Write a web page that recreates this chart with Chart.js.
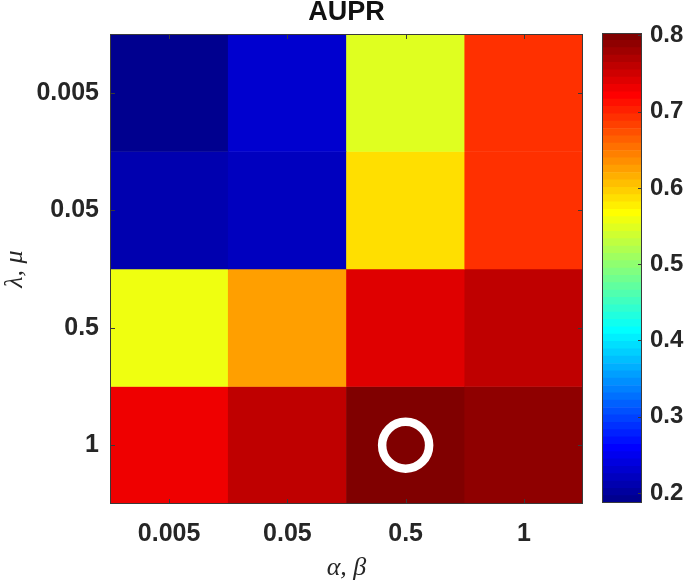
<!DOCTYPE html>
<html>
<head>
<meta charset="utf-8">
<script src="https://cdn.jsdelivr.net/npm/chart.js@4.4.1/dist/chart.umd.min.js"></script>
<style>
html, body { margin: 0; padding: 0; background: #fff; }
#wrap { position: relative; width: 685px; height: 587px; }
#heat { position: absolute; left: 0; top: 0; }
#cbar { position: absolute; left: 590px; top: 0; }
</style>
</head>
<body>
<div id="wrap">
  <canvas id="heat" width="685" height="587"></canvas>
  <canvas id="cbar" width="95" height="587"></canvas>
</div>
<script>
// categories
const alphaBeta = ['0.005', '0.05', '0.5', '1'];
const lambdaMu = ['0.005', '0.05', '0.5', '1'];

// AUPR per lambda,mu row (top to bottom), columns are alpha,beta
const aupr_l0005 = [0.190, 0.228, 0.548, 0.692];
const aupr_l005 = [0.210, 0.218, 0.586, 0.692];
const aupr_l05 = [0.557, 0.625, 0.740, 0.760];
const aupr_l1 = [0.731, 0.760, 0.800, 0.790];
const rows = [aupr_l0005, aupr_l005, aupr_l05, aupr_l1];

// colour axis
const cMin = 0.187, cMax = 0.803;
const cbTicks = [0.2, 0.3, 0.4, 0.5, 0.6, 0.7, 0.8];

const textColor = '#262626';
const sans = "'Liberation Sans', Arial, sans-serif";
const serif = "'Liberation Serif', 'Times New Roman', serif";

// matlab jet(64)
function u(j) {
  if (j < 1 || j > 47) return 0;
  if (j <= 16) return j / 16;
  if (j <= 31) return 1;
  return (48 - j) / 16;
}
function jet64(k) {
  const c = x => Math.round(255 * x);
  return `rgb(${c(u(k - 24))},${c(u(k - 8))},${c(u(k + 8))})`;
}
function colorOf(v) {
  let k = Math.floor((v - cMin) / (cMax - cMin) * 64) + 1;
  k = Math.max(1, Math.min(64, k));
  return jet64(k);
}

// best cell gets the circle
let best = {v: -Infinity};
rows.forEach((row, r) => row.forEach((v, c) => {
  if (v > best.v) best = {v: v, x: alphaBeta[c], y: r + 0.5};
}));

// frame + inward ticks
const frame = {
  id: 'frame',
  afterDraw(chart, args, opts) {
    const {ctx, chartArea: a} = chart;
    ctx.save();
    ctx.strokeStyle = opts.color;
    ctx.lineWidth = 1;
    ctx.strokeRect(a.left + 0.5, a.top + 0.5, a.right - a.left - 1, a.bottom - a.top - 1);
    ctx.beginPath();
    const len = opts.len;
    const xs = chart.scales.x, ys = chart.scales.y;
    if (opts.xTicks) {
      xs.ticks.forEach((t, i) => {
        const px = Math.round(xs.getPixelForTick(i)) + 0.5;
        ctx.moveTo(px, a.bottom); ctx.lineTo(px, a.bottom - len);
        ctx.moveTo(px, a.top); ctx.lineTo(px, a.top + len);
      });
    }
    ys.ticks.forEach((t, i) => {
      const py = Math.round(ys.getPixelForTick(i)) + 0.5;
      if (opts.leftTicks) { ctx.moveTo(a.left, py); ctx.lineTo(a.left + len, py); }
      ctx.moveTo(a.right, py); ctx.lineTo(a.right - len, py);
    });
    ctx.stroke();
    ctx.restore();
  }
};

const heatSets = rows.map((row, r) => ({
  type: 'bar',
  label: lambdaMu[r],
  data: row.map(() => 1),
  backgroundColor: row.map(colorOf),
  borderWidth: 0,
  barPercentage: 1,
  categoryPercentage: 1
}));

heatSets.push({
  type: 'line',
  label: 'best',
  data: [{x: best.x, y: best.y}],
  showLine: false,
  pointRadius: 23.5,
  pointBorderWidth: 8.5,
  pointBorderColor: '#ffffff',
  pointBackgroundColor: 'rgba(0,0,0,0)',
  order: -1,
  clip: false
});

new Chart(document.getElementById('heat'), {
  type: 'bar',
  data: { labels: alphaBeta, datasets: heatSets },
  plugins: [frame],
  options: {
    responsive: false,
    animation: false,
    layout: { padding: { left: 0, right: 102, top: 0, bottom: 0 } },
    plugins: {
      legend: { display: false },
      tooltip: { enabled: false },
      title: {
        display: true,
        text: 'AUPR',
        fullSize: false,
        color: '#111',
        font: { family: sans, size: 27, weight: 'bold', lineHeight: 0.9 },
        padding: { top: 0, bottom: 9.7 }
      },
      frame: { color: '#3a3a3a', len: 5, xTicks: true, leftTicks: true }
    },
    scales: {
      x: {
        type: 'category',
        stacked: true,
        offset: true,
        grid: { display: false, drawTicks: false },
        border: { display: false },
        ticks: { color: textColor, font: { family: sans, size: 25, weight: 'bold' }, padding: 15, maxRotation: 0, autoSkip: false },
        title: {
          display: true, text: 'α, β', color: textColor,
          font: { family: serif, size: 26, style: 'italic' },
          padding: { top: 0, bottom: 3 }
        },
        afterFit(s) { s.height = 83; }
      },
      y: {
        type: 'linear',
        stacked: true,
        reverse: true,
        min: 0,
        max: 4,
        grid: { display: false, drawTicks: false },
        border: { display: false },
        afterBuildTicks(s) { s.ticks = lambdaMu.map((_, i) => ({ value: i + 0.5 })); },
        ticks: { color: textColor, font: { family: sans, size: 25, weight: 'bold' }, padding: 11, callback: v => lambdaMu[Math.floor(v)] },
        title: {
          display: true, text: 'λ, μ', color: textColor,
          font: { family: serif, size: 26, style: 'italic' },
          padding: { top: 0, bottom: 0 }
        },
        afterFit(s) { s.width = 110; }
      }
    }
  }
});

// colorbar: 64 floating bars over one slot
const cbSets = [];
for (let k = 1; k <= 64; k++) {
  cbSets.push({
    data: [[cMin + (k - 1) * (cMax - cMin) / 64, cMin + k * (cMax - cMin) / 64]],
    backgroundColor: jet64(k),
    borderWidth: 0,
    grouped: false,
    barPercentage: 1,
    categoryPercentage: 1
  });
}

new Chart(document.getElementById('cbar'), {
  type: 'bar',
  data: { labels: ['c'], datasets: cbSets },
  plugins: [frame],
  options: {
    responsive: false,
    animation: false,
    layout: { padding: { left: 12, right: 0, top: 33, bottom: 84 } },
    plugins: {
      legend: { display: false },
      tooltip: { enabled: false },
      frame: { color: '#3a3a3a', len: 4, xTicks: false, leftTicks: false }
    },
    scales: {
      x: { type: 'category', display: false, offset: true },
      y: {
        type: 'linear',
        position: 'right',
        min: cMin,
        max: cMax,
        grid: { display: false, drawTicks: false },
        border: { display: false },
        afterBuildTicks(s) { s.ticks = cbTicks.map(v => ({ value: v })); },
        ticks: { color: textColor, font: { family: sans, size: 24, weight: 'bold' }, padding: 8, callback: v => v.toFixed(1) },
        afterFit(s) { s.width = 43; }
      }
    }
  }
});
</script>
</body>
</html>
